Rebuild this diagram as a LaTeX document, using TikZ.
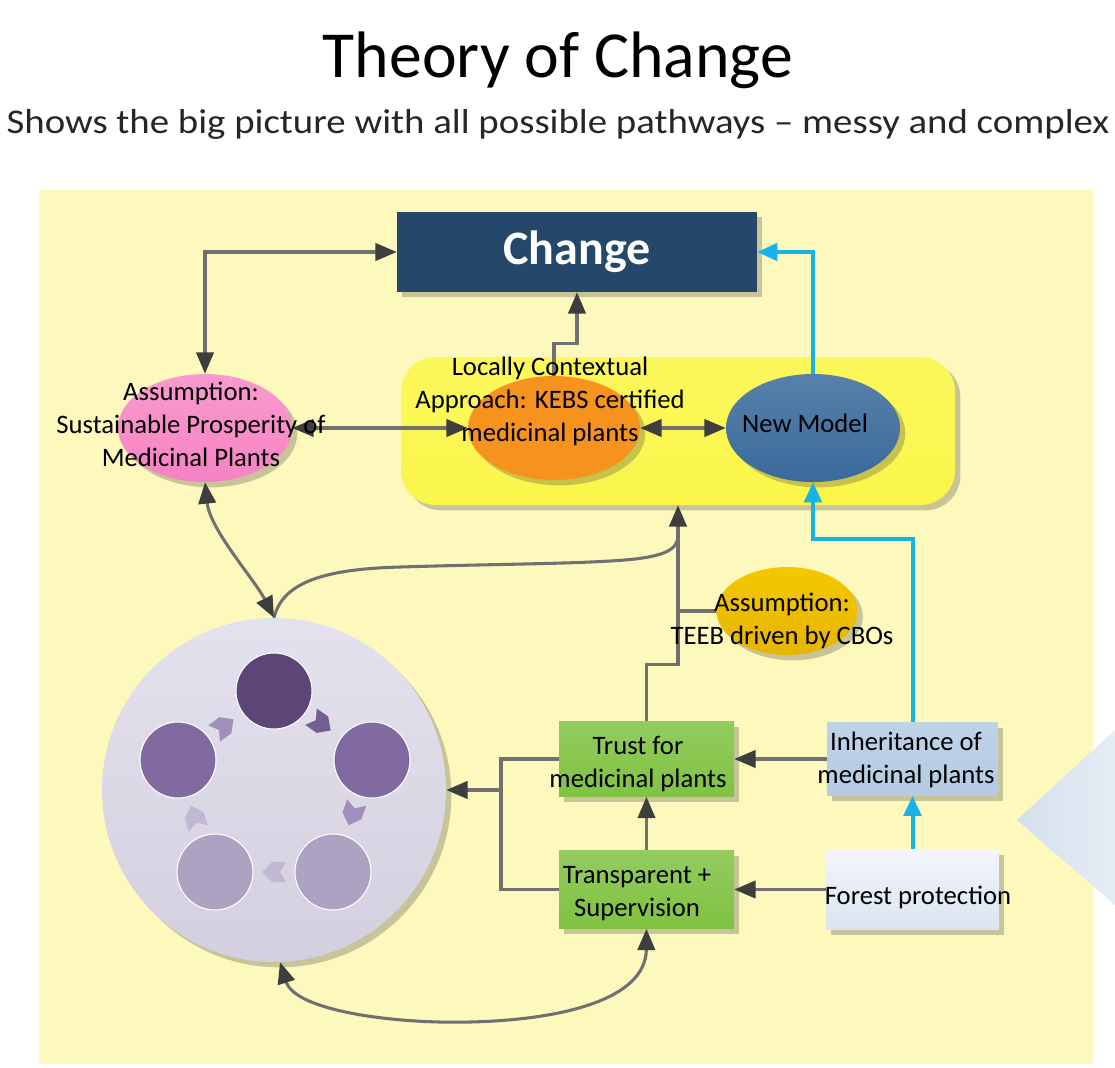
\documentclass[tikz,border=0pt]{standalone}
\usepackage{fontspec}
\setmainfont{Carlito}
\usetikzlibrary{arrows.meta,shadows,calc,shapes.geometric}
\definecolor{bgyellow}{RGB}{253,249,189}
\definecolor{boxyellow}{RGB}{251,246,74}
\definecolor{changeblue}{RGB}{37,72,106}
\definecolor{pinkfill}{RGB}{247,130,195}
\definecolor{orangefill}{RGB}{246,146,30}
\definecolor{modelblue}{RGB}{58,106,155}
\definecolor{teebfill}{RGB}{242,190,0}
\definecolor{greenfill}{RGB}{128,194,66}
\definecolor{inhfill}{RGB}{180,203,227}
\definecolor{forestA}{RGB}{243,246,251}
\definecolor{forestB}{RGB}{218,228,242}
\definecolor{circbig}{RGB}{222,218,234}
\definecolor{circA}{RGB}{92,70,120}
\definecolor{circB}{RGB}{128,106,160}
\definecolor{circC}{RGB}{173,162,194}
\definecolor{linegray}{RGB}{112,112,112}
\definecolor{arrowdark}{RGB}{62,62,62}
\definecolor{cyanline}{RGB}{25,178,232}
\definecolor{trifill}{RGB}{212,224,237}
\tikzset{
  shad/.style={drop shadow={shadow xshift=4pt,shadow yshift=-4pt,opacity=0.3,fill=black!70}},
  lbl/.style={font=\fontsize{20}{24.75}\selectfont, align=center, inner sep=0pt, text=black},
  gline/.style={draw=linegray, line width=2.3pt},
  garr/.style={gline, -{Triangle[length=16pt,width=13pt,color=arrowdark]}},
  garrtwo/.style={gline, {Triangle[length=16pt,width=13pt,color=arrowdark]}-{Triangle[length=16pt,width=13pt,color=arrowdark]}},
  barr/.style={draw=cyanline, line width=3pt, -{Triangle[length=15pt,width=13pt,color=cyanline]}},
  ell/.style={ellipse, inner sep=0pt, shad},
  boxnode/.style={rectangle, inner sep=0pt, shad},
  smallcirc/.style={circle, draw=white, line width=0.8pt, minimum size={76*0.75pt}, inner sep=0pt},
  cyclearrow/.pic={\fill (-11,-10) -- (3,-10) -- (13,0) -- (3,10) -- (-11,10) -- (-5,0) -- cycle;}
}
\begin{document}
\begin{tikzpicture}[x=0.75pt,y=-0.75pt]
\useasboundingbox (0,0) rectangle (1115,1068);
\fill[white] (0,0) rectangle (1115,1068);
% background panel
\fill[bgyellow] (39,190) rectangle (1093,1064);
% right triangle decoration
\shade[left color=trifill, right color=trifill!60!white] (1017,820) -- (1115,730) -- (1115,905) -- cycle;

% titles
\node[font=\fontsize{49.3}{58}\selectfont, anchor=base, inner sep=0pt] (title) at (558,77) {Theory of Change};
\node[font=\fontsize{26}{30}\selectfont, anchor=base, inner sep=0pt, text=black!85] (subtitle) at (558,133) {\scalebox{1.12}[1]{Shows the big picture with all possible pathways -- messy and complex}};

% main nodes
\node[boxnode, fill=changeblue, minimum width={360*0.75pt}, minimum height={80*0.75pt},
      text=white, font=\fontsize{36}{42}\selectfont\bfseries] (change) at (577,252) {Change};
\node[boxnode, rounded corners=26pt, top color=boxyellow!90!white, bottom color=boxyellow,
      minimum width={554*0.75pt}, minimum height={148*0.75pt}] (ybox) at (678,431) {};
\node[ell, top color=pinkfill!80!white, bottom color=pinkfill, minimum width={174*0.75pt}, minimum height={108*0.75pt}] (pink) at (205,428) {};
\node[ell, fill=orangefill, minimum width={172*0.75pt}, minimum height={104*0.75pt}] (orange) at (554,428) {};
\node[ell, top color=modelblue!85!white, bottom color=modelblue, minimum width={174*0.75pt}, minimum height={108*0.75pt}] (newmodel) at (813,428) {};
\node[ell, top color=teebfill!85!yellow, bottom color=teebfill!95!black, minimum width={141*0.75pt}, minimum height={88*0.75pt}] (teeb) at (787,611) {};

\node[boxnode, top color=greenfill!85!white, bottom color=greenfill, minimum width={175*0.75pt}, minimum height={75*0.75pt}] (trust) at (646.5,759) {};
\node[boxnode, top color=greenfill!85!white, bottom color=greenfill, minimum width={175*0.75pt}, minimum height={78*0.75pt}] (transp) at (646.5,889.5) {};
\node[boxnode, top color=inhfill!85!white, bottom color=inhfill, minimum width={171*0.75pt}, minimum height={73*0.75pt}] (inherit) at (912.5,759) {};
\node[boxnode, top color=forestA, bottom color=forestB, minimum width={173*0.75pt}, minimum height={80*0.75pt}] (forest) at (912.5,889.5) {};

% big circle with cycle
\node[circle, inner sep=0pt, minimum size={344*0.75pt}, top color=circbig!80!white, bottom color=circbig!95!black, shad] (bigcircle) at (274,790) {};
\node[smallcirc, fill=circA] (c1) at (274,691) {};
\node[smallcirc, fill=circB] (c2) at (372,760) {};
\node[smallcirc, fill=circC] (c3) at (333,872) {};
\node[smallcirc, fill=circC] (c4) at (215,872) {};
\node[smallcirc, fill=circB] (c5) at (178,760) {};
\pic[fill=circB!90!black, rotate=-35] at (320,723) {cyclearrow};
\pic[fill=circB!75!white, rotate=-109] at (353,813) {cyclearrow};
\pic[fill=circC!75!white, rotate=180] at (275,872) {cyclearrow};
\pic[fill=circC!75!white, rotate=108] at (195,818) {cyclearrow};
\pic[fill=circB!75!white, rotate=36] at (223,727) {cyclearrow};

% connectors
\draw[garrtwo] (pink.north) |- (change.west);
\draw[garr] (orange.north) -- ++(0,-32) -| (change.south);
\draw[garrtwo] (pink.east) -- (orange.west);
\draw[garrtwo] (orange.east) -- (newmodel.west);
\draw[barr] (newmodel.north) |- (change.east);
\draw[barr] (inherit.north) -- ++(0,-183) -| (newmodel.south);
\draw[barr] (forest.north) -- (inherit.south);
\draw[garr] (forest.west) -- (transp.east);
\draw[garr] (inherit.west) -- (trust.east);
\draw[garr] (transp.north) -- (trust.south);
\coordinate (jn) at (501,790);
\draw[gline] (trust.west) -| (jn) |- (transp.west);
\draw[garr] (jn) -- (bigcircle.east);
\draw[garr] (trust.north) -- ++(0,-57) -| (ybox.south);
\draw[gline] (teeb.west) -- (teeb.west -| ybox.south);
\coordinate (merge) at ($(ybox.south)+(0,30)$);
\draw[gline] (bigcircle.north) .. controls (283,580) and (330,569) .. (400,567) .. controls (500,564) and (560,564) .. (610,561) .. controls (665,558) and (678,550) .. (merge);
\draw[garrtwo] (pink.south) .. controls (210,530) and (255,580) .. (bigcircle.north);
\draw[garrtwo] (bigcircle.-88) .. controls (295,1010) and (390,1024) .. (470,1022) .. controls (560,1020) and (646,1000) .. (transp.south);

% texts
\node[lbl] (pinktxt) at (191,424) {Assumption:\\Sustainable Prosperity of\\Medicinal Plants};
\node[lbl] (orangetxt) at (550,401) {Locally Contextual\\Approach: KEBS certified\\medicinal plants};
\node[lbl] (newtxt) at (805,423) {New Model};
\node[lbl] (teebtxt) at (782,621) {Assumption:\\TEEB driven by CBOs};
\node[lbl] (trusttxt) at (638,764) {Trust for\\medicinal plants};
\node[lbl] (transptxt) at (637,894) {Transparent +\\Supervision};
\node[lbl] (inherittxt) at (906,760) {Inheritance of\\medicinal plants};
\node[lbl] (foresttxt) at (918,897) {Forest protection};
\end{tikzpicture}
\end{document}
